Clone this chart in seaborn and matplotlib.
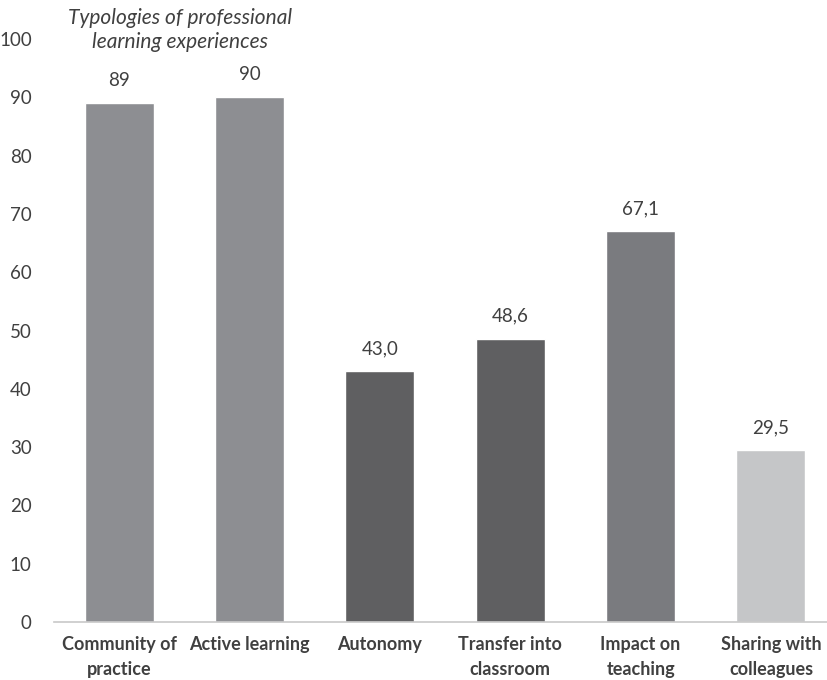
import matplotlib
matplotlib.use("Agg")
import matplotlib.pyplot as plt
import seaborn as sns
import pandas as pd

categories = ["Community of\npractice", "Active learning", "Autonomy",
              "Transfer into\nclassroom", "Impact on\nteaching", "Sharing with\ncolleagues"]
values = [89, 90, 43.0, 48.6, 67.1, 29.5]
value_labels = ["89", "90", "43,0", "48,6", "67,1", "29,5"]
bar_colors = ["#8d8e92", "#8d8e92", "#5f5f61", "#5f5f61", "#7a7b7f", "#c5c6c8"]
y_ticks = [0, 10, 20, 30, 40, 50, 60, 70, 80, 90, 100]

sns.set_theme(style="white")
plt.rcParams["font.family"] = ["Lato", "DejaVu Sans"]
text_color = "#404040"

df = pd.DataFrame({"category": categories, "value": values})

fig = plt.figure(figsize=(8.27, 6.80), dpi=100)
ax = fig.add_axes([54 / 827, 58 / 680, 773 / 827, 583 / 680])

sns.barplot(data=df, x="category", y="value", hue="category",
            palette=bar_colors, legend=False, width=0.53,
            saturation=1, ax=ax)

ax.set_ylim(0, 100)
ax.set_xlim(-0.5, 5.43)
ax.set_yticks(y_ticks)
ax.set_yticklabels([str(t) for t in y_ticks], fontsize=13.5, color=text_color)
ax.tick_params(axis="y", length=0, pad=16)
ax.tick_params(axis="x", length=0, pad=10)
for lbl in ax.get_xticklabels():
    lbl.set_fontweight("bold")
    lbl.set_fontsize(13)
    lbl.set_color(text_color)
    lbl.set_linespacing(1.6)
ax.set_xlabel("")
ax.set_ylabel("")

for side in ["top", "right", "left"]:
    ax.spines[side].set_visible(False)
ax.spines["bottom"].set_color("#c8c8c8")
ax.spines["bottom"].set_linewidth(1.2)

for i, (v, lab) in enumerate(zip(values, value_labels)):
    ax.annotate(lab, (i, v), xytext=(0, 10), textcoords="offset points",
                ha="center", va="bottom", fontsize=13.5, color=text_color)

fig.text(180 / 827, 1 - 30 / 680, "Typologies of professional\nlearning experiences",
         ha="center", va="center", fontsize=15, style="italic",
         color=text_color, linespacing=1.25)

fig.savefig("out.png", dpi=100)
